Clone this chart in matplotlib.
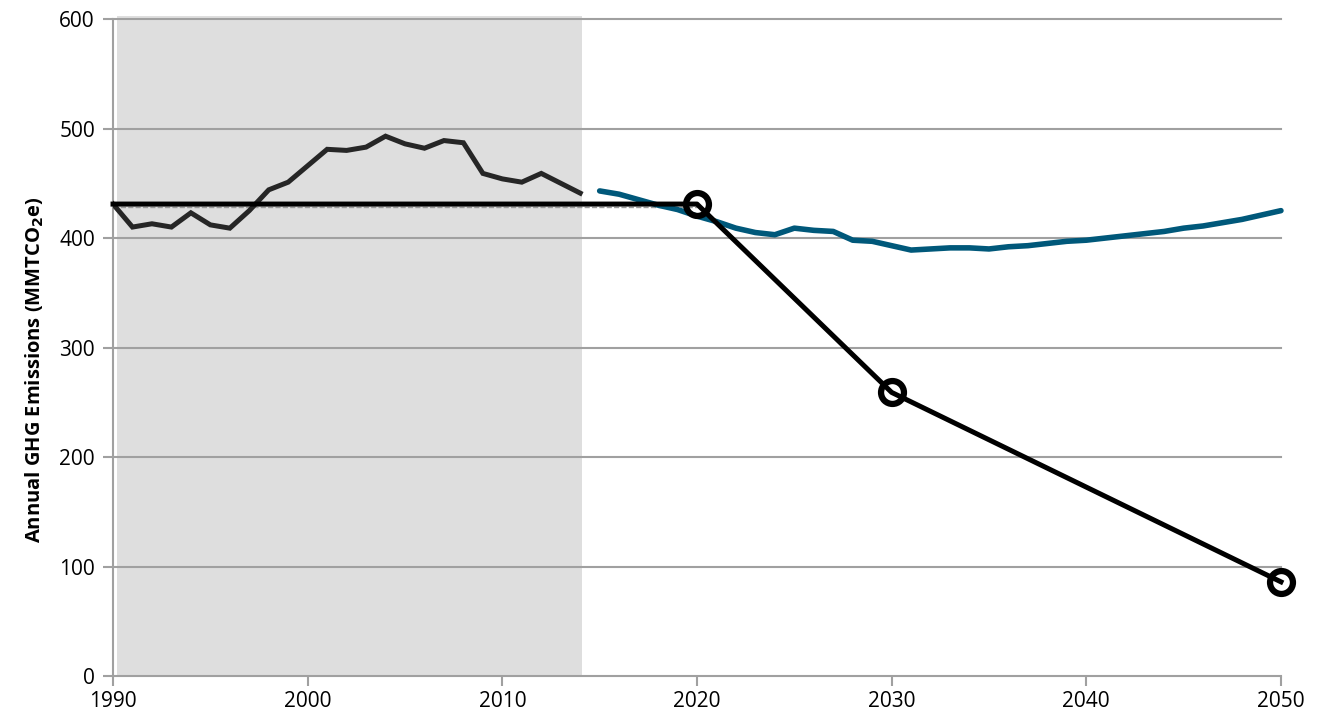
import matplotlib.pyplot as plt

plt.rcParams['font.family'] = ['Open Sans', 'DejaVu Sans']

# historical emissions, 1990-2014
hist_years = list(range(1990, 2015))
hist_vals = [431, 410, 413, 410, 423, 412, 409, 425, 444, 451, 466, 481, 480, 483,
             493, 486, 482, 489, 487, 459, 454, 451, 459, 450, 441]

# reference projection, 2015-2050
proj_years = list(range(2015, 2051))
proj_vals = [443, 440, 435, 430, 426, 420, 415, 409, 405, 403, 409, 407, 406, 398,
             397, 393, 389, 390, 391, 391, 390, 392, 393, 395, 397, 398, 400, 402,
             404, 406, 409, 411, 414, 417, 421, 425]

# targets
target_years = [1990, 2020, 2030, 2050]
target_vals = [431, 431, 259, 86]
marker_years = [2020, 2030, 2050]
marker_vals = [431, 259, 86]

fig = plt.figure(figsize=(13.36, 7.23), dpi=100)
ax = fig.add_axes([0.0846, 0.065, 0.8742, 0.9087])

# shaded historical period
ax.fill_between([1990.2, 2014.1], 0, 603, color="#dedede", lw=0, clip_on=False, zorder=0)

for y in range(100, 700, 100):
    ax.plot([1990, 2050], [y, y], color="#a0a0a0", lw=1.5, zorder=1, clip_on=False)

ax.plot([1990, 2020], [428.5, 428.5], color="#9a9a9a", lw=1, ls="--", zorder=2)
ax.plot(hist_years, hist_vals, color="#262626", lw=3.6, zorder=3, solid_joinstyle="miter")
ax.plot(proj_years, proj_vals, color="#00587a", lw=4, zorder=3, solid_capstyle="round",
        clip_on=False)
ax.plot(target_years, target_vals, color="black", lw=3.6, zorder=4, clip_on=False)
ax.plot(marker_years, marker_vals, ls="none", marker="o", ms=16.5, mfc="none",
        mec="black", mew=4.5, zorder=5, clip_on=False)

ax.set_xlim(1990, 2050)
ax.set_ylim(0, 600)
ax.set_xticks(range(1990, 2051, 10))
ax.set_yticks(range(0, 601, 100))

for s in ["top", "right"]:
    ax.spines[s].set_visible(False)
for s in ["left", "bottom"]:
    ax.spines[s].set_color("#a0a0a0")
    ax.spines[s].set_linewidth(1.5)
ax.tick_params(axis="both", colors="#a0a0a0", width=1.5, length=7, labelcolor="black",
               labelsize=15)
ax.tick_params(axis="y", pad=6)
ax.tick_params(axis="x", pad=4)

ax.set_ylabel("Annual GHG Emissions (MMTCO$_\\mathbf{2}$e)", fontsize=14.5, fontweight="bold")
ax.yaxis.set_label_coords(-0.057, 0.466)

fig.savefig("out.png", dpi=100)
